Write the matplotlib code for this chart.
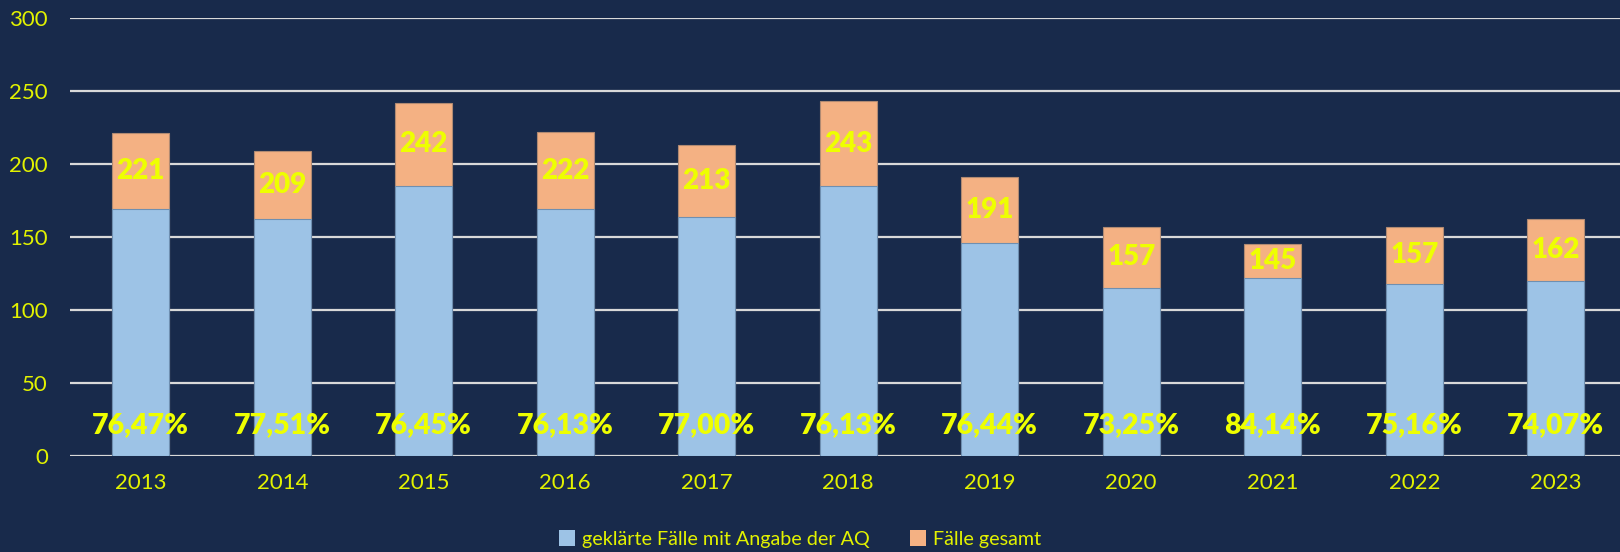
import matplotlib
matplotlib.use("Agg")
import matplotlib.pyplot as plt
import numpy as np

# data
years = ["2013", "2014", "2015", "2016", "2017", "2018", "2019", "2020", "2021", "2022", "2023"]
total = [221, 209, 242, 222, 213, 243, 191, 157, 145, 157, 162]
cleared = [169, 162, 185, 169, 164, 185, 146, 115, 122, 118, 120]
quote = ["76,47%", "77,51%", "76,45%", "76,13%", "77,00%", "76,13%",
         "76,44%", "73,25%", "84,14%", "75,16%", "74,07%"]

bg = "#182a4b"
blue = "#9dc3e6"
orange = "#f4b183"
yellow = "#eeff00"
tick_yellow = "#e2f200"

plt.rcParams["font.family"] = ["Lato", "DejaVu Sans"]

fig = plt.figure(figsize=(16.2, 5.52), dpi=100, facecolor=bg)
ax = fig.add_axes([70 / 1620, 1 - 456 / 552, 1550 / 1620, 438 / 552])
ax.set_facecolor(bg)

x = np.arange(len(years))
w = 0.40
ax.bar(x, total, width=w, color=orange, edgecolor="#b08a72", linewidth=0.8,
       zorder=2, label="Fälle gesamt")
ax.bar(x, cleared, width=w, color=blue, edgecolor="#6f8fb0", linewidth=0.8,
       zorder=3, label="geklärte Fälle mit Angabe der AQ")

for i in range(len(years)):
    mid = (total[i] + cleared[i]) / 2
    ax.text(x[i], mid, str(total[i]), ha="center", va="center",
            color=yellow, fontsize=20, fontweight="heavy", zorder=5)
    ax.text(x[i], 21, quote[i], ha="center", va="center",
            color=yellow, fontsize=20.5, fontweight="heavy", zorder=5)

ax.set_ylim(0, 300)
ax.set_xlim(-0.5, -0.5 + 1550 / 141.5)
ax.set_yticks(range(0, 301, 50))
ax.set_xticks(x)
ax.set_xticklabels(years)
ax.yaxis.grid(True, color="#d9d9d9", linewidth=1.6, zorder=0)
ax.set_axisbelow(True)
for s in ax.spines.values():
    s.set_visible(False)
ax.tick_params(axis="both", length=0, colors=tick_yellow, labelsize=16)
ax.tick_params(axis="x", pad=12)
ax.tick_params(axis="y", pad=16)

handles, labels = ax.get_legend_handles_labels()
leg = fig.legend(handles[::-1], labels[::-1], loc="center",
                 bbox_to_anchor=(800 / 1620, 1 - 539 / 552), ncol=2,
                 frameon=False, fontsize=14.2, handlelength=0.85, handleheight=0.85,
                 handletextpad=0.35, columnspacing=2.0)
for t in leg.get_texts():
    t.set_color(tick_yellow)
for h in leg.legend_handles:
    h.set_edgecolor("none")

fig.savefig("out.png", dpi=100, facecolor=bg)
